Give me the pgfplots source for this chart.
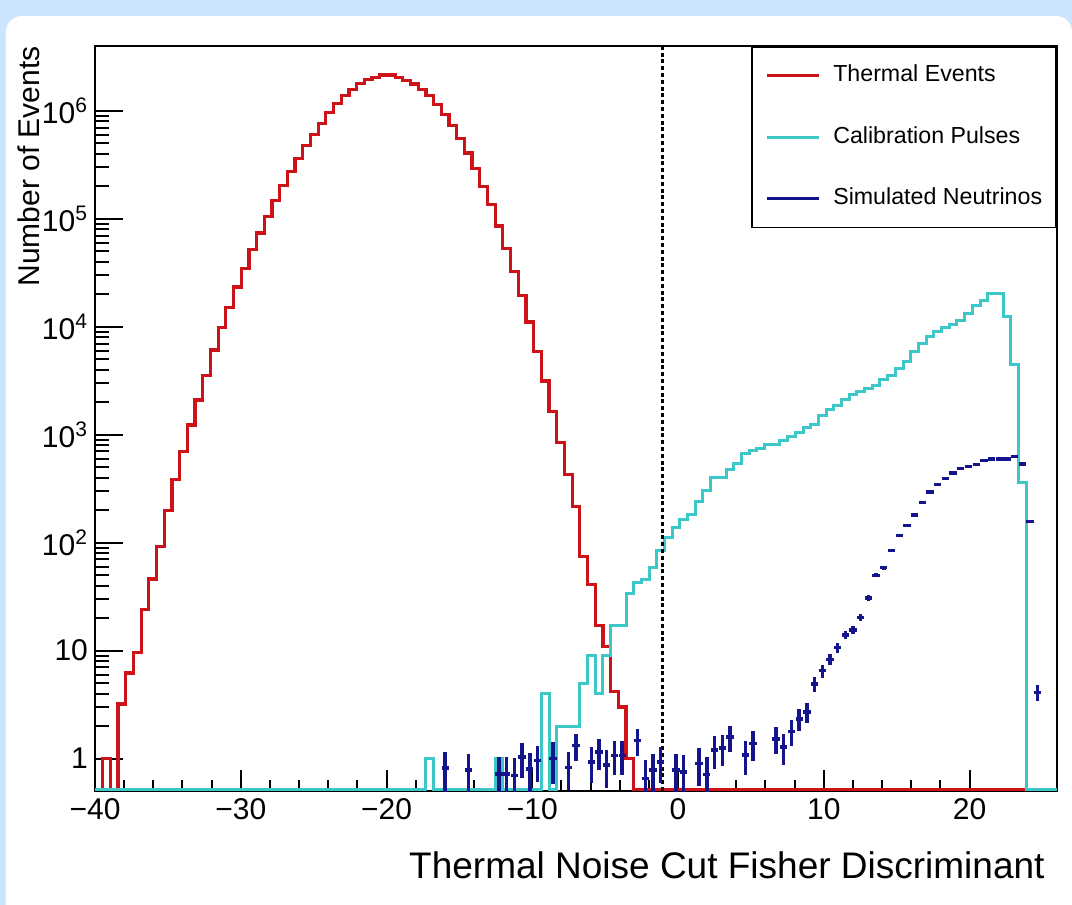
\documentclass[border=0pt]{standalone}
\usepackage{fontspec}
\setmainfont{Liberation Sans}
\usepackage{pgfplots}
\usepackage{pgfplotstable}
\pgfplotsset{compat=1.18}
\definecolor{thermred}{RGB}{205,18,24}
\definecolor{calcyan}{RGB}{60,200,200}
\definecolor{nublue}{RGB}{20,20,140}
\definecolor{bgblue}{RGB}{204,229,255}

% bins of width 0.528 from -40; k = bin index, v = content (0.515 = empty bin, drawn on the frame)
\pgfplotstableread{
k v
0 0.515
1 1
2 0.515
3 3.2
4 6.2
5 9.6
6 24
7 46
8 92
9 200
10 384
11 700
12 1230
13 2100
14 3530
15 6100
16 9800
17 15200
18 23400
19 35000
20 52000
21 74000
22 106000
23 148000
24 203000
25 273000
26 363000
27 475000
28 605000
29 765000
30 967000
31 1180000
32 1380000
33 1590000
34 1790000
35 1960000
36 2060000
37 2150000
38 2150000
39 2060000
40 1930000
41 1780000
42 1580000
43 1400000
44 1150000
45 930000
46 735000
47 560000
48 408000
49 295000
50 200000
51 135000
52 86000
53 53000
54 32700
55 19400
56 11100
57 5900
58 3150
59 1640
60 851
61 428
62 218
63 75
64 41
65 17
66 11
67 4.2
68 3
69 1
70 0.515
125 0.515
}\thermal

\pgfplotstableread{
k v
0 0.515
43 1
44 0.515
52 1
53 0.515
58 4
59 0.515
60 2
63 5
64 9
65 4
66 9
67 17
69 34
70 43
71 46
72 59
73 84
74 111
75 137
76 164
77 182
78 239
79 303
80 398
82 475
83 547
84 677
85 710
86 752
87 807
88 819
89 879
90 965
91 1057
92 1175
93 1234
94 1507
95 1698
96 1864
97 2100
98 2336
99 2513
100 2694
101 2890
102 3216
103 3575
104 4121
105 4818
106 5877
107 7014
108 8087
109 8995
110 9800
111 10500
112 11500
113 13300
114 15800
115 17600
116 20300
118 12400
119 4490
120 363
121 0.515
125 0.515
}\calib

\pgfplotstableread{
k v e
45 0.82 0.34
48 0.78 0.32
52 0.72 0.32
53 0.72 0.32
54 0.70 0.32
55 1.03 0.37
56 0.80 0.32
57 0.96 0.35
59 1.0 0.42
61 0.83 0.32
62 1.32 0.37
64 0.93 0.34
65 1.15 0.37
66 0.87 0.34
67 1.07 0.37
68 1.07 0.37
70 1.47 0.42
71 0.65 0.32
72 0.78 0.32
73 0.93 0.34
75 0.78 0.32
76 0.75 0.32
78 0.90 0.34
79 0.71 0.32
80 1.2 0.4
81 1.25 0.4
82 1.58 0.42
84 1.08 0.37
85 1.37 0.42
88 1.52 0.42
89 1.28 0.4
90 1.79 0.47
91 2.33 0.52
92 2.69 0.57
93 4.9 0.78
94 6.5 0.88
95 8.3 0.98
96 10.7 1.1
97 14.0 1.2
98 15.5 1.3
99 20.3 1.5
100 30.6 1.8
101 49.9 2.3
102 58.8 2.5
103 85 3
104 116 3.5
105 145 4
106 180 4.3
107 237 5
108 294 5.5
109 346 6
110 392 6.3
111 444 6.7
112 484 7
113 508 7.1
114 532 7.3
115 575 7.6
116 595 7.7
117 595 7.7
118 595 7.7
119 628 7.9
120 535 7.3
121 158 4
122 4.1 0.7
}\neutrinos

\begin{document}
\begin{tikzpicture}
\useasboundingbox (-47.5pt,-57pt) rectangle (488.5pt,395.5pt);
\fill[bgblue] (-47.5pt,-57pt) rectangle (488.5pt,395.5pt);
\fill[white] (488.5pt,-57pt) -- (-44.5pt,-57pt) [rounded corners=8pt] -- (-44.5pt,387.5pt) -- (488.5pt,387.5pt) [sharp corners] -- cycle;
\begin{axis}[
  at={(0pt,0pt)}, anchor=south west,
  scale only axis, width=481pt, height=372.5pt,
  ymode=log,
  xmin=-40, xmax=26, ymin=0.5, ymax=4e6,
  axis line style={line width=1pt},
  tick style={line width=1pt, black},
  tick align=inside, tick pos=left,
  xtick={-40,-30,...,20},
  xticklabels={−40,−30,−20,−10,0,10,20},
  minor x tick num=4,
  ytick={1,10,100,1000,10000,100000,1000000},
  yticklabels={1,10,10\textsuperscript{2},10\textsuperscript{3},10\textsuperscript{4},10\textsuperscript{5},10\textsuperscript{6}},
  xtick style={/pgfplots/major tick length=10.5pt},
  ytick style={/pgfplots/major tick length=14pt},
  minor x tick style={/pgfplots/minor tick length=5.5pt},
  minor y tick style={/pgfplots/minor tick length=7pt},
  tick label style={font=\fontsize{15}{18}\selectfont},
  xlabel={Thermal Noise Cut Fisher Discriminant},
  xlabel style={at={(rel axis cs:0.9875,-0.118)}, anchor=base east, inner sep=0pt, font=\fontsize{18.5}{22}\selectfont},
  ylabel={Number of Events},
  ylabel style={at={(rel axis cs:-0.0572,1)}, anchor=base east, inner sep=0pt, font=\fontsize{15}{18}\selectfont},
  legend style={at={(rel axis cs:1,1)}, anchor=north east, draw=black, line width=0.8pt, fill=white,
    inner xsep=7pt, inner ysep=9pt, row sep=20pt, font=\fontsize{11.6}{14}\selectfont,
    nodes={inner sep=0pt, text height=8.4pt, text depth=2.4pt}},
  legend cell align=left,
  legend image code/.code={\draw[#1, line width=1.5pt] (0pt,0pt) -- (26pt,0pt); \path (32.5pt,0pt);},
]
\addplot[const plot mark left, thermred, line width=1.6pt, forget plot]
  table[x expr={-40+0.528*\thisrow{k}}, y=v] {\thermal};
\addplot[const plot mark left, calcyan, line width=1.5pt, forget plot]
  table[x expr={-40+0.528*\thisrow{k}}, y=v] {\calib};
\addplot[black, line width=1.6pt, dash pattern=on 2pt off 1.4pt, forget plot]
  coordinates {(-1.05,0.5) (-1.05,4e6)};
\addplot[draw=none, mark=none, forget plot,
  error bars/.cd, y dir=both, y explicit, x dir=both, x fixed=0.25, error mark=none,
  error bar style={draw=nublue, solid, line width=1.7pt}]
  table[x expr={-40+0.528*(\thisrow{k}+0.5)}, y=v, y error=e] {\neutrinos};
\addlegendimage{thermred}
\addlegendentry{Thermal Events}
\addlegendimage{calcyan}
\addlegendentry{Calibration Pulses}
\addlegendimage{nublue}
\addlegendentry{Simulated Neutrinos}
\end{axis}
\end{tikzpicture}
\end{document}
